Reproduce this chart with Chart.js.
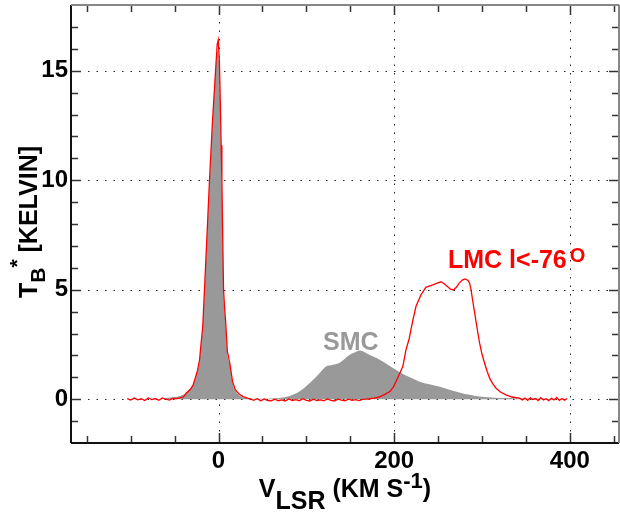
<!DOCTYPE html>
<html>
<head>
<meta charset="utf-8">
<script src="https://cdn.jsdelivr.net/npm/chart.js@4.4.1/dist/chart.umd.min.js"></script>
<style>
html, body { margin: 0; padding: 0; background: #fff; }
</style>
</head>
<body>
<canvas id="hiChart" width="620" height="513"></canvas>
<script>
// red line: Galactic + LMC (l < -76), velocity in km/s, Tb in K
const redVel = [
    -104, -100, -96, -92, -88, -84, -80, -76, -72, -68, -64, -60, -56, -52, -48, -44,
    -40, -36.8, -32, -29, -27, -24, -21.6, -20, -18, -16, -13, -10.3, -7, -3.4, -1.5, -0.3,
    1, 2, 3, 3.8, 4.8, 5.7, 7, 8, 9, 10, 13, 16, 19, 23, 28, 33,
    36, 40, 44, 48, 52, 56, 60, 64, 68, 72, 76, 80, 84, 88, 92, 96, 100, 104, 108, 112,
    116, 120, 124, 128, 132, 136, 140, 144, 148, 152, 156, 160, 164, 168, 172,
    177, 183, 190, 195, 199, 202, 206, 209.9, 213.4, 217, 221, 224.8, 230.4, 236, 244, 249,
    253.3, 257, 260.9, 264, 267.6, 271, 274, 278, 281, 284, 285.9, 287.5, 289.3, 291.4,
    293.5, 295.4, 297.3, 300, 303, 305.8, 308.7, 312, 316, 321, 327.3, 334, 342.7,
    346, 349, 352, 355, 358, 361, 364, 367, 370, 373, 376, 379, 382, 385, 388, 391, 394, 397
];
const redTb = [
    0.03, -0.04, 0.05, -0.03, 0.02, -0.06, 0.06, -0.02, 0.03, -0.05, 0.06, 0.0, -0.04, 0.04, 0.03, 0.06,
    0.1, 0.27, 0.45, 0.65, 0.9, 1.3, 1.8, 2.5, 3.3, 5.0, 7.6, 10.0, 12.6, 15.0, 16.2, 16.4,
    15.4, 13.6, 11.6, 10.0, 7.3, 5.0, 4.1, 3.6, 2.9, 2.2, 1.6, 0.8, 0.45, 0.25, 0.12, 0.05,
    0.02, -0.05, 0.02, -0.07, 0.01, -0.06, -0.08, 0.0, -0.07, -0.03, -0.08, 0.01, -0.06, -0.02, -0.07, 0.02, -0.05, -0.08, 0.0, -0.06,
    -0.03, -0.07, 0.01, -0.05, -0.08, 0.0, -0.04, -0.07, 0.0, -0.05, -0.02, -0.06, -0.01, 0.0, 0.02,
    0.05, 0.1, 0.23, 0.35, 0.55, 0.8, 1.15, 1.5, 2.25, 2.75, 3.55, 4.23, 4.76, 5.11, 5.22, 5.3,
    5.36, 5.27, 5.14, 5.03, 4.99, 5.12, 5.3, 5.45, 5.49, 5.42, 5.3, 5.0, 4.53, 4.0,
    3.47, 3.0, 2.56, 2.05, 1.64, 1.28, 0.96, 0.72, 0.5, 0.33, 0.2, 0.1, 0.05,
    -0.03, 0.05, -0.05, 0.06, -0.02, 0.03, -0.06, 0.07, -0.04, 0.02, -0.07, 0.04, -0.03, 0.08, -0.05, 0.03, -0.05, 0.03
];

// grey fill: Galactic + SMC
const greyVel = [
    -60, -50, -44, -38, -34, -30, -27, -24, -21.6, -20, -18, -16, -13, -10, -7, -4, -2, -1,
    0, 1, 2, 3, 3.8, 4.8, 5.7, 7, 8, 9, 10, 13, 16, 19, 23, 28, 34, 40,
    50, 60, 69.5, 81, 92, 103.6, 115, 122, 130, 138, 149, 155, 161, 166, 172, 180, 187,
    195, 202, 210, 218, 229, 240, 252, 263, 275, 286, 297, 310, 328, 350, 370, 390
];
const greyTb = [
    0.05, 0.1, 0.15, 0.25, 0.4, 0.6, 0.85, 1.25, 1.75, 2.4, 3.2, 4.8, 7.4, 9.9, 12.4, 14.6, 15.6, 15.9,
    15.7, 14.8, 13.0, 11.0, 9.5, 7.0, 4.8, 3.9, 3.4, 2.75, 2.1, 1.5, 0.75, 0.4, 0.2, 0.08, 0.04, 0.02,
    0.02, 0.03, 0.05, 0.15, 0.35, 0.73, 1.19, 1.48, 1.57, 1.67, 2.02, 2.13, 2.22, 2.15, 2.02, 1.88, 1.72,
    1.52, 1.34, 1.15, 1.0, 0.8, 0.68, 0.57, 0.43, 0.3, 0.2, 0.12, 0.08, 0.05, 0.03, 0.02, 0.0
];

const xMajor = [0, 200, 400];
const xMinor = [-150, -100, -50, 50, 100, 150, 250, 300, 350, 450];
const yMajor = [0, 5, 10, 15];
const yMinor = [-1, 1, 2, 3, 4, 6, 7, 8, 9, 11, 12, 13, 14, 16, 17];

const FONT = '"Liberation Sans", Arial, sans-serif';

function toPoints(xs, ys) {
    return xs.map((v, i) => ({ x: v, y: ys[i] }));
}

// draw a line of text with sub/superscript parts, centred on x
function drawParts(ctx, parts, cx, baseline) {
    let total = 0;
    parts.forEach(p => {
        ctx.font = 'bold ' + p.size + 'px ' + FONT;
        total += ctx.measureText(p.t).width;
    });
    let x = cx - total / 2;
    parts.forEach(p => {
        ctx.font = 'bold ' + p.size + 'px ' + FONT;
        ctx.fillText(p.t, x, baseline + p.dy);
        x += ctx.measureText(p.t).width;
    });
}

// no extra room for tick labels, the plot box is fixed
function noPad(axis) {
    axis.paddingTop = 0;
    axis.paddingBottom = 0;
    axis.paddingLeft = 0;
    axis.paddingRight = 0;
}

const decorPlugin = {
    id: 'decor',
    beforeDatasetsDraw(chart) {
        const { ctx, chartArea: a, scales: { x, y } } = chart;
        ctx.save();
        ctx.strokeStyle = '#222';
        ctx.lineWidth = 1;
        ctx.setLineDash([1.5, 7]);
        xMajor.forEach(v => {
            const px = Math.round(x.getPixelForValue(v)) + 0.5;
            ctx.beginPath();
            ctx.moveTo(px, a.top);
            ctx.lineTo(px, a.bottom);
            ctx.stroke();
        });
        yMajor.forEach(v => {
            const py = Math.round(y.getPixelForValue(v)) + 0.5;
            ctx.beginPath();
            ctx.moveTo(a.left, py);
            ctx.lineTo(a.right, py);
            ctx.stroke();
        });
        ctx.restore();
    },
    afterDraw(chart) {
        const { ctx, chartArea: a, scales: { x, y } } = chart;
        ctx.save();

        // inward ticks on all four sides
        ctx.strokeStyle = '#333';
        ctx.lineWidth = 1.5;
        const tick = (x1, y1, x2, y2) => {
            ctx.beginPath();
            ctx.moveTo(x1, y1);
            ctx.lineTo(x2, y2);
            ctx.stroke();
        };
        xMajor.concat(xMinor).forEach(v => {
            const px = Math.round(x.getPixelForValue(v)) + 0.5;
            const len = xMajor.includes(v) ? 10 : 7;
            tick(px, a.bottom, px, a.bottom - len);
            tick(px, a.top, px, a.top + len);
        });
        yMajor.concat(yMinor).forEach(v => {
            const py = Math.round(y.getPixelForValue(v)) + 0.5;
            const len = yMajor.includes(v) ? 10 : 7;
            tick(a.left, py, a.left + len, py);
            tick(a.right, py, a.right - len, py);
        });

        // frame
        ctx.lineWidth = 2;
        ctx.strokeStyle = '#111';
        tick(a.left, a.top, a.left, a.bottom);
        tick(a.left, a.bottom, a.right, a.bottom);
        ctx.strokeStyle = '#888';
        tick(a.left, a.top, a.right, a.top);
        tick(a.right, a.top, a.right, a.bottom);

        // axis titles
        ctx.fillStyle = '#000';
        ctx.textAlign = 'left';
        ctx.textBaseline = 'alphabetic';
        drawParts(ctx, [
            { t: 'V', dy: 0, size: 25 },
            { t: 'LSR', dy: 12, size: 25 },
            { t: ' (KM S', dy: 0, size: 25 },
            { t: '-1', dy: -9, size: 22 },
            { t: ')', dy: 0, size: 25 }
        ], (a.left + a.right) / 2, 497);

        ctx.save();
        ctx.translate(37, (a.top + a.bottom) / 2 - 2);
        ctx.rotate(-Math.PI / 2);
        drawParts(ctx, [
            { t: 'T', dy: 0, size: 25 },
            { t: 'B', dy: 8, size: 21 },
            { t: '*', dy: -13, size: 21 },
            { t: ' [KELVIN]', dy: 0, size: 25 }
        ], 0, 0);
        ctx.restore();

        // labels inside the plot
        ctx.fillStyle = '#999';
        ctx.font = 'bold 25px ' + FONT;
        ctx.fillText('SMC', 323, 350);

        ctx.fillStyle = '#ff0000';
        ctx.fillText('LMC l<-76', 448, 268);
        const w = ctx.measureText('LMC l<-76').width;
        ctx.font = 'bold 20px ' + FONT;
        ctx.fillText('O', 448 + w + 3, 262);

        ctx.restore();
    }
};

new Chart(document.getElementById('hiChart').getContext('2d'), {
    type: 'line',
    data: {
        datasets: [{
            label: 'LMC',
            data: toPoints(redVel, redTb),
            borderColor: '#ff0000',
            borderWidth: 1.3,
            pointRadius: 0,
            fill: false,
            tension: 0
        }, {
            label: 'SMC',
            data: toPoints(greyVel, greyTb),
            borderColor: 'rgba(0,0,0,0)',
            borderWidth: 0,
            backgroundColor: 'rgb(153,153,153)',
            pointRadius: 0,
            fill: 'origin',
            cubicInterpolationMode: 'monotone'
        }]
    },
    options: {
        responsive: false,
        animation: false,
        events: [],
        layout: { padding: { top: 5, right: 1, left: 0, bottom: 0 } },
        plugins: {
            legend: { display: false },
            tooltip: { enabled: false }
        },
        scales: {
            x: {
                type: 'linear',
                min: -168,
                max: 456,
                afterBuildTicks: (axis) => { axis.ticks = xMajor.map(v => ({ value: v })); },
                afterFit: (axis) => { axis.height = 70; noPad(axis); },
                grid: { display: false, drawTicks: false },
                border: { display: false },
                ticks: {
                    padding: 4,
                    color: '#000',
                    maxRotation: 0,
                    font: { family: FONT, size: 24, weight: 'bold' }
                }
            },
            y: {
                type: 'linear',
                min: -2,
                max: 18,
                afterBuildTicks: (axis) => { axis.ticks = yMajor.map(v => ({ value: v })); },
                afterFit: (axis) => { axis.width = 71; noPad(axis); },
                grid: { display: false, drawTicks: false },
                border: { display: false },
                ticks: {
                    padding: 3,
                    color: '#000',
                    font: { family: FONT, size: 24, weight: 'bold' }
                }
            }
        }
    },
    plugins: [decorPlugin]
});
</script>
</body>
</html>
